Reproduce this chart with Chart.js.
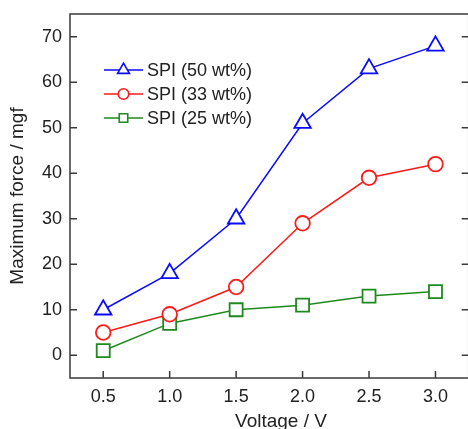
<!DOCTYPE html>
<html>
<head>
<meta charset="utf-8">
<script src="https://cdn.jsdelivr.net/npm/chart.js@4/dist/chart.umd.min.js"></script>
<style>
  html, body { margin: 0; padding: 0; background: #fff; overflow: hidden; }
  #wrap { width: 468px; height: 429px; overflow: hidden; }
  canvas { display: block; }
</style>
</head>
<body>
<div id="wrap"><canvas id="c" width="480" height="429" style="width:480px;height:429px"></canvas></div>
<script>
// ---- data ----
const voltages = [0.5, 1.0, 1.5, 2.0, 2.5, 3.0];
const spi50 = [10, 18, 30, 51, 63, 68];
const spi33 = [5, 9, 15, 29, 39, 42];
const spi25 = [1, 7, 10, 11, 13, 14];
const seriesLabels = ['SPI (50 wt%)', 'SPI (33 wt%)', 'SPI (25 wt%)'];
const xTicks = [0.5, 1.0, 1.5, 2.0, 2.5, 3.0];
const yTicks = [0, 10, 20, 30, 40, 50, 60, 70];
const xTitle = 'Voltage / V';
const yTitle = 'Maximum force / mgf';

// ---- styles ----
const FONT = "'Liberation Sans', Arial, Helvetica, sans-serif";
const TEXT = '#222';
const FRAME = '#3a3a3a';
const colors = ['#0a0aff', '#ff1a1a', '#1e8a1e'];
const styles = ['triangle', 'circle', 'rect'];
const radii = [9.5, 7.3, 9.2];
const legendRadii = [6.8, 5.3, 6];
const TARGET = { left: 70, top: 14, right: 470, bottom: 378 };

function toPts(ys) { return voltages.map((x, i) => ({ x: x, y: ys[i] })); }
const allSeries = [spi50, spi33, spi25];

const datasets = allSeries.map((ys, i) => ({
  label: seriesLabels[i],
  data: toPts(ys),
  borderColor: colors[i],
  backgroundColor: '#fff',
  borderWidth: 1.5,
  pointStyle: styles[i],
  pointRadius: radii[i],
  pointHoverRadius: radii[i],
  pointBorderWidth: 1.8,
  pointBackgroundColor: '#fff',
  pointBorderColor: colors[i],
  tension: 0,
  clip: false
}));

function zeroPad(s) { s.paddingTop = 0; s.paddingBottom = 0; s.paddingLeft = 0; s.paddingRight = 0; }

const framePlugin = {
  id: 'frame',
  afterDraw(chart) {
    const { ctx, chartArea: a, scales } = chart;
    const xs = scales.x, ys = scales.y;
    ctx.save();
    ctx.strokeStyle = FRAME;
    ctx.lineWidth = 1.5;
    ctx.strokeRect(a.left, a.top, a.right - a.left, a.bottom - a.top);
    const tl = 7;
    ctx.beginPath();
    xTicks.forEach(v => {
      const px = xs.getPixelForValue(v);
      ctx.moveTo(px, a.bottom); ctx.lineTo(px, a.bottom - tl);
    });
    yTicks.forEach(v => {
      const py = ys.getPixelForValue(v);
      ctx.moveTo(a.left, py); ctx.lineTo(a.left + tl, py);
      ctx.moveTo(a.right, py); ctx.lineTo(a.right - tl, py);
    });
    ctx.stroke();

    // x axis title
    ctx.fillStyle = TEXT;
    ctx.font = '19px ' + FONT;
    ctx.textAlign = 'center';
    ctx.textBaseline = 'alphabetic';
    ctx.fillText(xTitle, 281, 427);

    // legend
    const lx0 = 104, lx1 = 143, mx = 123.5, tx = 147;
    const rowY = [70, 94, 118];
    ctx.font = '18px ' + FONT;
    ctx.textAlign = 'left';
    ctx.textBaseline = 'middle';
    chart.data.datasets.forEach((d, i) => {
      const y = rowY[i];
      ctx.strokeStyle = d.borderColor;
      ctx.lineWidth = 1.5;
      ctx.beginPath(); ctx.moveTo(lx0, y); ctx.lineTo(lx1, y); ctx.stroke();
      ctx.fillStyle = '#fff';
      ctx.strokeStyle = d.borderColor;
      ctx.lineWidth = 1.6;
      Chart.helpers.drawPoint(ctx, { pointStyle: d.pointStyle, radius: legendRadii[i], rotation: 0, borderWidth: 1.6 }, mx, y);
      ctx.fillStyle = TEXT;
      ctx.fillText(d.label, tx, y + 1);
    });
    ctx.restore();
  }
};

const pad = { top: 14, right: 10, left: 0, bottom: 0 };

const chart = new Chart(document.getElementById('c'), {
  type: 'line',
  data: { datasets: datasets },
  options: {
    responsive: false,
    animation: false,
    devicePixelRatio: 1,
    layout: { padding: Object.assign({}, pad) },
    plugins: { legend: { display: false }, tooltip: { enabled: false } },
    scales: {
      x: {
        type: 'linear',
        min: 0.25, max: 3.25,
        grid: { display: false, drawTicks: false },
        border: { display: false },
        afterBuildTicks: s => { s.ticks = xTicks.map(v => ({ value: v })); },
        afterFit: s => { s.height = 51; zeroPad(s); },
        ticks: {
          padding: 8,
          color: TEXT,
          font: { size: 18, family: FONT },
          maxRotation: 0,
          autoSkip: false,
          callback: v => Number(v).toFixed(1)
        }
      },
      y: {
        type: 'linear',
        min: -5, max: 75,
        grid: { display: false, drawTicks: false },
        border: { display: false },
        afterBuildTicks: s => { s.ticks = yTicks.map(v => ({ value: v })); },
        afterFit: s => { s.width = 70; zeroPad(s); },
        ticks: {
          padding: 8,
          color: TEXT,
          font: { size: 18, family: FONT },
          autoSkip: false,
          callback: v => String(v)
        },
        title: {
          display: true,
          text: yTitle,
          color: TEXT,
          font: { size: 19, family: FONT },
          padding: { top: 6, bottom: 0 }
        }
      }
    }
  },
  plugins: [framePlugin]
});

// make sure the plot area lands where the reference has it
for (let k = 0; k < 4; k++) {
  const a = chart.chartArea;
  const dR = a.right - TARGET.right;
  const dT = TARGET.top - a.top;
  const dB = a.bottom - TARGET.bottom;
  if (Math.abs(dR) < 0.5 && Math.abs(dT) < 0.5 && Math.abs(dB) < 0.5) break;
  pad.right += dR;
  pad.top += dT;
  pad.bottom += dB;
  chart.options.layout.padding = Object.assign({}, pad);
  chart.update('none');
}
</script>
</body>
</html>
